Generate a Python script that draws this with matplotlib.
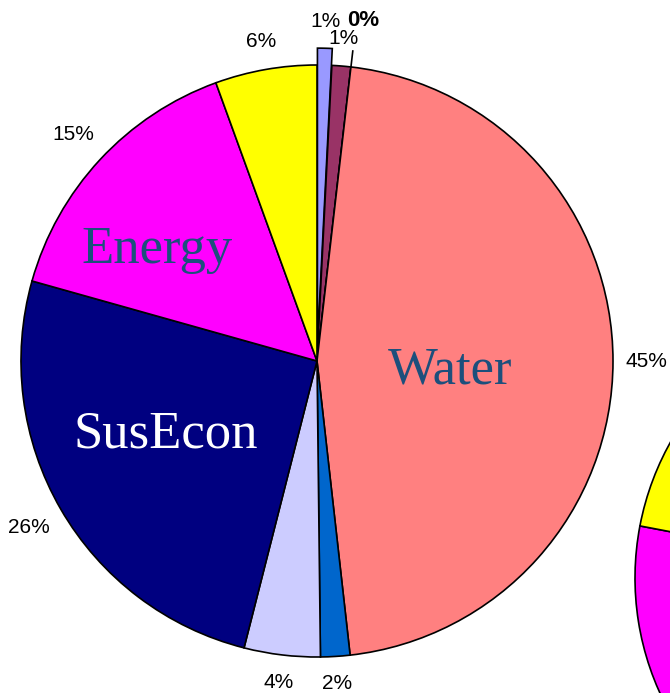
import numpy as np
import matplotlib.pyplot as plt

# slices clockwise from 12 o'clock
pct_labels = ['1%', '1%', '0%', '45%', '2%', '4%', '26%', '15%', '6%']
values = [0.8, 1.03, 0.0, 46.4, 1.6, 4.15, 25.4, 15.1, 5.55]
colors = ['#9999FF', '#993366', '#FFFFCC', '#FF8080', '#0066CC',
          '#CCCCFF', '#000080', '#FF00FF', '#FFFF00']
explode = [0.057, 0, 0.057, 0, 0, 0, 0, 0, 0]

# second pie, only its left edge shows at the right border
values_2 = [1, 1, 0, 42, 2, 4, 17, 11, 22]

# names written over the big slices
names = ['Water', 'Energy', 'SusEcon']
name_colors = ['#1d4f7c', '#1d4f7c', 'white']

fig = plt.figure(figsize=(6.7, 6.93), dpi=100)
ax = fig.add_axes([0, 0, 1, 1])

R = 296
cx, cy = 317, 332
wedge_kw = dict(edgecolor='black', linewidth=1.2)

# pie() takes explode in data units, so scale by the radius
wedges, _ = ax.pie(values, colors=colors, explode=[e * R for e in explode],
                   startangle=90, counterclock=False, radius=R,
                   center=(cx, cy), wedgeprops=wedge_kw, frame=True)

ax.pie(values_2, colors=colors, startangle=90, counterclock=False,
       radius=278, center=(913, 115), wedgeprops=wedge_kw, frame=True)
ax.set_xlim(0, 670)
ax.set_ylim(0, 693)
ax.set_aspect('equal')
ax.axis('off')

# percentage labels just outside each slice
for w, lab in zip(wedges, pct_labels):
    th = np.deg2rad((w.theta1 + w.theta2) / 2)
    c, s = np.cos(th), np.sin(th)
    d = 1.044 * R + abs(c) * 6.8 * len(lab) + abs(s) * 13
    x0, y0 = w.center
    bold = lab == '0%'
    dx = 7 if bold else 0   # the 0% label sits a bit to the right
    ax.text(x0 + d * c + dx, y0 + d * s + (2 if bold else 0), lab,
            ha='center', va='center',
            fontsize=16 if bold else 15, family='Liberation Sans',
            fontweight='bold' if bold else 'normal')

# slice names
name_pos = [(450, 310), (157, 430), (166, 246)]
for nm, col, (x, y) in zip(names, name_colors, name_pos):
    ax.text(x, y, nm, ha='center', va='baseline', fontsize=38,
            family='Liberation Serif', color=col)

plt.savefig('out.png', dpi=100)
